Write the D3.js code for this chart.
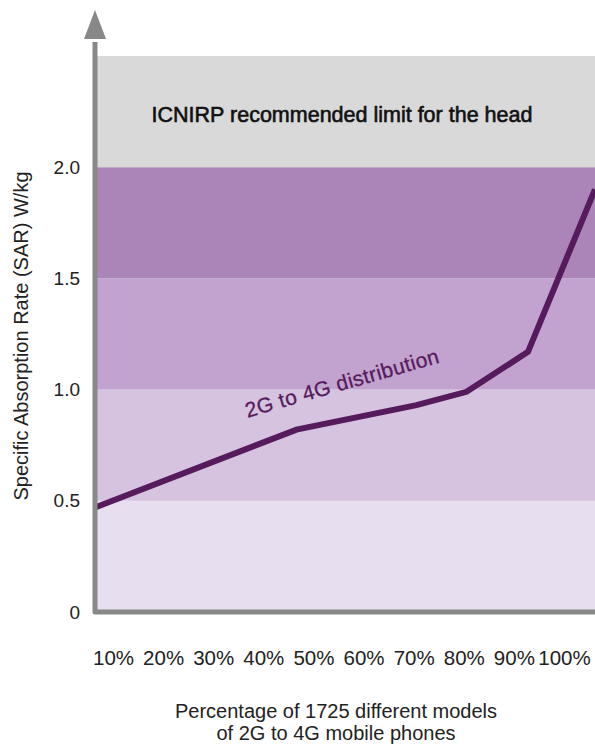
<!DOCTYPE html>
<html>
<head>
<meta charset="utf-8">
<script src="https://cdn.jsdelivr.net/npm/d3@7/dist/d3.min.js"></script>
<style>
  body { margin: 0; background: #fff; }
  svg { display: block; font-family: "Liberation Sans", Arial, sans-serif; }
</style>
</head>
<body>
<div id="chart"></div>
<script>
// tick labels
const xLabels = ["10%", "20%", "30%", "40%", "50%", "60%", "70%", "80%", "90%", "100%"];
const yTicks = [0, 0.5, 1.0, 1.5, 2.0];
const yTickLabels = ["0", "0.5", "1.0", "1.5", "2.0"];

// background bands (SAR W/kg)
const bandFrom = [0, 0.5, 1.0, 1.5, 2.0];
const bandTo = [0.5, 1.0, 1.5, 2.0, 2.5];
const bandColors = ["#e7deef", "#d6c3df", "#c2a3cf", "#ab84b8", "#d9d9d9"];

// 2G to 4G distribution (share of models, SAR)
const linePct = [0, 40.3, 64.3, 74.3, 86.6, 100];
const lineSar = [0.47, 0.82, 0.93, 0.99, 1.17, 1.90];

const width = 595, height = 745;
const margin = { left: 95, right: 0, top: 56, bottom: 133 };

const svg = d3.select("#chart").append("svg")
    .attr("width", width)
    .attr("height", height);

const x = d3.scaleLinear()
    .domain([0, 100])
    .range([margin.left, width - margin.right]);
const y = d3.scaleLinear()
    .domain([0, 2.5])
    .range([height - margin.bottom, margin.top]);
const xCat = d3.scalePoint()
    .domain(xLabels)
    .range([113, 564]);

// bands
svg.append("g")
    .selectAll("rect")
    .data(bandFrom)
    .join("rect")
    .attr("x", x(0))
    .attr("width", x(100) - x(0))
    .attr("y", (d, i) => y(bandTo[i]))
    .attr("height", (d, i) => y(d) - y(bandTo[i]))
    .attr("fill", (d, i) => bandColors[i]);

svg.append("text")
    .attr("x", 342)
    .attr("y", y(2.25) + 10)
    .attr("text-anchor", "middle")
    .attr("font-size", 21.5)
    .attr("fill", "#111")
    .attr("stroke", "#111")
    .attr("stroke-width", 0.6)
    .text("ICNIRP recommended limit for the head");

// line
const data = linePct.map((p, i) => ({ p: p, v: lineSar[i] }));
const line = d3.line()
    .x(d => x(d.p))
    .y(d => y(d.v));
svg.append("path")
    .datum(data)
    .attr("fill", "none")
    .attr("stroke", "#561b5c")
    .attr("stroke-width", 6)
    .attr("stroke-linejoin", "miter")
    .attr("d", line);

svg.append("text")
    .attr("transform", "translate(344,390) rotate(-16)")
    .attr("text-anchor", "middle")
    .attr("font-size", 21)
    .attr("letter-spacing", 0.4)
    .attr("fill", "#561b5c")
    .attr("stroke", "#561b5c")
    .attr("stroke-width", 0.3)
    .text("2G to 4G distribution");

// axes lines
svg.append("path")
    .attr("d", `M${x(0)},42 L${x(0)},${y(0)} L${width},${y(0)}`)
    .attr("fill", "none")
    .attr("stroke", "#888")
    .attr("stroke-width", 5)
    .attr("stroke-linejoin", "round");
svg.append("path")
    .attr("d", `M${x(0)},10 L${x(0) - 11},39 L${x(0) + 11},39 Z`)
    .attr("fill", "#888");

// y axis labels
svg.append("g")
    .attr("transform", "translate(80,0)")
    .call(d3.axisLeft(y).tickValues(yTicks).tickSize(0).tickPadding(0)
        .tickFormat((d, i) => yTickLabels[i]))
    .call(g => g.select(".domain").remove())
    .call(g => g.selectAll("text")
        .attr("font-size", 19)
        .attr("font-family", "Liberation Sans, Arial, sans-serif")
        .attr("fill", "#222"));

// x axis labels
svg.append("g")
    .attr("transform", "translate(0,650)")
    .call(d3.axisBottom(xCat).tickSize(0).tickPadding(0))
    .call(g => g.select(".domain").remove())
    .call(g => g.selectAll("text")
        .attr("font-size", 20.5)
        .attr("font-family", "Liberation Sans, Arial, sans-serif")
        .attr("fill", "#222"));

// axis titles
svg.append("text")
    .attr("transform", "translate(28,336) rotate(-90)")
    .attr("text-anchor", "middle")
    .attr("font-size", 20)
    .attr("fill", "#222")
    .text("Specific Absorption Rate (SAR) W/kg");

const xTitle = svg.append("text")
    .attr("text-anchor", "middle")
    .attr("font-size", 20)
    .attr("fill", "#222");
xTitle.append("tspan").attr("x", 336).attr("y", 718).text("Percentage of 1725 different models");
xTitle.append("tspan").attr("x", 336).attr("y", 740).text("of 2G to 4G mobile phones");
</script>
</body>
</html>
